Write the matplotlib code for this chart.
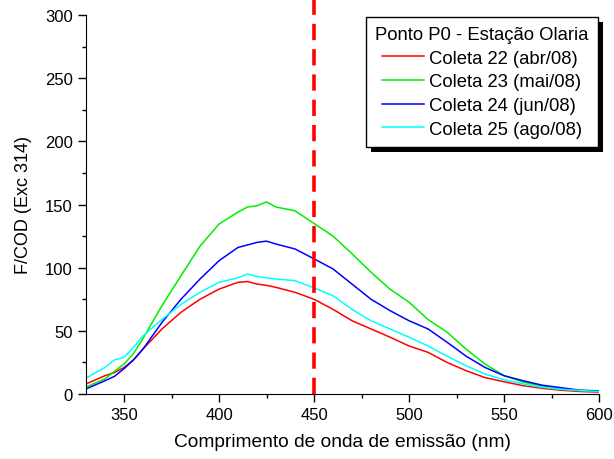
import matplotlib
matplotlib.use("Agg")
import matplotlib.pyplot as plt
from matplotlib.patches import Rectangle
from matplotlib.ticker import MultipleLocator
from matplotlib.transforms import IdentityTransform

plt.rcParams['font.family'] = ['Liberation Sans', 'DejaVu Sans']

wavelength = [330, 340, 345, 350, 355, 360, 370, 380, 390, 400, 410, 415, 420, 425, 430,
              440, 450, 460, 470, 480, 490, 500, 510, 520, 530, 540, 550, 560, 570, 580, 590, 600]

coleta22 = [8, 14.5, 17, 21, 27, 35.6, 51.5, 64.7, 75, 83, 88.4, 89, 87, 86, 84.4,
            80.5, 75, 67, 58, 51.5, 45, 38, 33, 25, 18.5, 13, 9.7, 6.6, 4.5, 3, 2, 1.5]
coleta23 = [5.5, 12, 18, 23.7, 32, 44, 70, 93.6, 117, 134.5, 144, 148, 149, 152, 148,
            145, 135, 125, 111, 96.4, 83, 72.7, 59, 49, 35.6, 23.7, 14.5, 9.5, 6.3, 4, 2.6, 2]
coleta24 = [4, 10.5, 14, 20, 27, 35.6, 56.7, 75, 91, 105.5, 116, 118, 120, 121, 118.7,
            114.8, 107, 99, 87, 75, 66, 58, 51.5, 41, 30, 21, 14.5, 10.5, 7, 5, 3, 2.5]
coleta25 = [12.6, 21, 27, 29, 37, 46, 59, 71, 80.5, 88.4, 92, 95, 93, 92, 91,
            89.7, 84, 77.8, 67, 58, 51.5, 45, 38, 30, 22.4, 15.8, 11.3, 8, 5.3, 3.7, 2.8, 2]

series = [
    ("Coleta 22 (abr/08)", coleta22, "#ff0000"),
    ("Coleta 23 (mai/08)", coleta23, "#00ee00"),
    ("Coleta 24 (jun/08)", coleta24, "#0000ff"),
    ("Coleta 25 (ago/08)", coleta25, "#00ffff"),
]

fig = plt.figure(figsize=(6.14, 4.6), dpi=100)
ax = fig.add_axes([86/614, 65/460, 513/614, 379/460])

for label, vals, color in series:
    ax.plot(wavelength, vals, color=color, lw=1.1, label=label)

ax.plot([450, 450], [0, 313], color="#ff0000", lw=2.6, ls=(0, (4.5, 2.5)), clip_on=False, zorder=5)

ax.set_xlim(330, 600)
ax.set_ylim(0, 300)
ax.xaxis.set_major_locator(MultipleLocator(50))
ax.xaxis.set_minor_locator(MultipleLocator(25))
ax.yaxis.set_major_locator(MultipleLocator(50))
ax.yaxis.set_minor_locator(MultipleLocator(25))
ax.spines['top'].set_visible(False)
ax.spines['right'].set_visible(False)
ax.tick_params(which='major', direction='out', length=6, width=1, labelsize=12)
ax.tick_params(which='minor', direction='out', length=3, width=1)

ax.set_xlabel("Comprimento de onda de emissão (nm)", fontsize=13.8, labelpad=8)
ax.set_ylabel("F/COD (Exc 314)", fontsize=13, labelpad=9)

leg = ax.legend(title="Ponto P0 - Estação Olaria", loc='upper right',
                bbox_to_anchor=(0.998, 0.995), borderaxespad=0, fontsize=13.3,
                title_fontsize=13.3, fancybox=False, framealpha=1, edgecolor='black',
                handlelength=2.27, handletextpad=0.27, labelspacing=0.36,
                borderpad=0.5)
leg.get_frame().set_linewidth(1)
leg.set_zorder(10)

fig.canvas.draw()
bb = leg.get_window_extent()
shadow = Rectangle((bb.x0 + 5, bb.y0 - 5), bb.width, bb.height,
                   facecolor='black', edgecolor='none', zorder=9)
ax.add_artist(shadow)
shadow.set_transform(IdentityTransform())
shadow.set_clip_on(False)

fig.savefig("out.png", dpi=100)
